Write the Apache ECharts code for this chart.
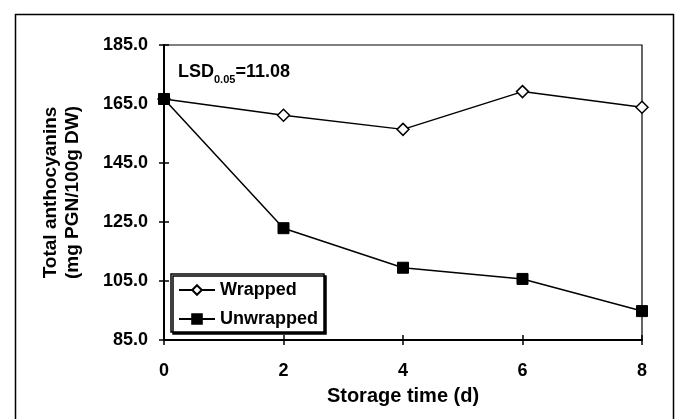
<!DOCTYPE html>
<html>
<head>
<meta charset="utf-8">
<script src="https://cdn.jsdelivr.net/npm/echarts@6/dist/echarts.min.js"></script>
<style>
  html, body { margin: 0; padding: 0; background: #fff; }
  #chart { width: 675px; height: 419px; }
</style>
</head>
<body>
<div id="chart"></div>
<script>
// storage days and anthocyanin values (mg PGN/100g DW)
var days = [0, 2, 4, 6, 8];
var wrapped = [166.7, 161.2, 156.4, 169.2, 163.9];
var unwrapped = [166.7, 122.9, 109.5, 105.7, 94.8];
var seriesNames = ['Wrapped', 'Unwrapped'];

var font = 'Liberation Sans, Arial, sans-serif';

function pairs(vals) {
  return days.map(function (d, i) { return [d, vals[i]]; });
}

var dom = document.getElementById('chart');
var myChart = echarts.init(dom);

var option = {
  animation: false,
  backgroundColor: '#fff',
  textStyle: { fontFamily: font, color: '#000' },
  grid: {
    left: 164, right: 33, top: 45, bottom: 79,
    show: true, borderColor: '#000', borderWidth: 1.2
  },
  legend: {
    left: 171, top: 274,
    orient: 'vertical',
    data: seriesNames,
    itemWidth: 36, itemHeight: 12, itemGap: 11,
    padding: [7, 6, 4, 7],
    backgroundColor: '#fff',
    borderColor: '#000', borderWidth: 1.5,
    shadowColor: '#000', shadowBlur: 0, shadowOffsetX: 2, shadowOffsetY: 2,
    textStyle: { fontFamily: font, fontSize: 18, lineHeight: 18, fontWeight: 'bold', color: '#000' }
  },
  xAxis: [
    {
      type: 'value', position: 'bottom',
      min: 0, max: 8, interval: 2,
      name: 'Storage time (d)', nameLocation: 'middle', nameGap: 46,
      nameTextStyle: { fontFamily: font, fontSize: 20, fontWeight: 'bold', color: '#000' },
      axisLine: { show: true, lineStyle: { color: '#000', width: 2 } },
      axisTick: { show: true, inside: false, length: 5, lineStyle: { color: '#000', width: 1.5 } },
      axisLabel: { margin: 22, fontFamily: font, fontSize: 18, fontWeight: 'bold', color: '#000' },
      splitLine: { show: false }
    },
    {
      type: 'value', position: 'bottom',
      min: 0, max: 8, interval: 2,
      axisLine: { show: false },
      axisTick: { show: true, inside: true, length: 5, lineStyle: { color: '#000', width: 1.5 } },
      axisLabel: { show: false },
      splitLine: { show: false }
    }
  ],
  yAxis: [
    {
      type: 'value', position: 'left',
      min: 85, max: 185, interval: 20,
      name: 'Total anthocyanins\n(mg PGN/100g DW)', nameLocation: 'middle', nameGap: 80,
      nameRotate: 90,
      nameTextStyle: { fontFamily: font, fontSize: 19, fontWeight: 'bold', color: '#000', lineHeight: 22 },
      axisLine: { show: true, lineStyle: { color: '#000', width: 2 } },
      axisTick: { show: true, inside: false, length: 5, lineStyle: { color: '#000', width: 1.5 } },
      axisLabel: {
        margin: 16, fontFamily: font, fontSize: 18, fontWeight: 'bold', color: '#000',
        formatter: function (v) { return v.toFixed(1); }
      },
      splitLine: { show: false }
    },
    {
      type: 'value', position: 'left',
      min: 85, max: 185, interval: 20,
      axisLine: { show: false },
      axisTick: { show: true, inside: true, length: 5, lineStyle: { color: '#000', width: 1.5 } },
      axisLabel: { show: false },
      splitLine: { show: false }
    }
  ],
  graphic: [
    {
      type: 'rect', left: 13, top: 12, z: -10, silent: true,
      shape: { width: 658, height: 500 },
      style: { fill: null, stroke: '#000', lineWidth: 1.5 }
    },
    {
      type: 'text', left: 178, top: 63, z: 10,
      style: {
        text: '{a|LSD}{b|0.05}{a|=11.08}',
        rich: {
          a: { fontFamily: font, fontSize: 18, fontWeight: 'bold', fill: '#000', lineHeight: 22, verticalAlign: 'bottom' },
          b: { fontFamily: font, fontSize: 11, fontWeight: 'bold', fill: '#000', lineHeight: 22, verticalAlign: 'bottom', padding: [0, 0, -4, 0] }
        }
      }
    }
  ],
  series: [
    {
      name: 'Wrapped', type: 'line',
      xAxisIndex: 0, yAxisIndex: 0,
      data: pairs(wrapped),
      symbol: 'diamond', symbolSize: 12,
      lineStyle: { color: '#000', width: 1.5 },
      itemStyle: { color: '#fff', borderColor: '#000', borderWidth: 1.5 },
      z: 3
    },
    {
      name: 'Unwrapped', type: 'line',
      xAxisIndex: 0, yAxisIndex: 0,
      data: pairs(unwrapped),
      symbol: 'rect', symbolSize: 11,
      lineStyle: { color: '#000', width: 1.5 },
      itemStyle: { color: '#000', borderColor: '#000', borderWidth: 1 },
      z: 4
    }
  ]
};

if (option && typeof option === 'object') {
  myChart.setOption(option, true);
}
</script>
</body>
</html>
